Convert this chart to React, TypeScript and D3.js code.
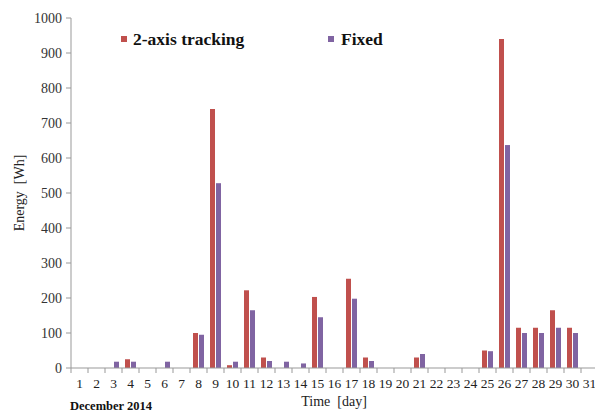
import * as d3 from "d3";

const days = d3.range(1, 32).map(String);
const tracking = [0, 0, 0, 25, 0, 0, 0, 100, 740, 8, 222, 30, 0, 0, 203, 0, 255, 30, 0, 0, 30, 0, 0, 0, 50, 940, 115, 115, 165, 115, 0];
const fixed = [0, 0, 18, 18, 0, 18, 0, 95, 528, 18, 165, 20, 18, 13, 145, 0, 198, 20, 0, 0, 40, 0, 0, 0, 48, 637, 100, 100, 115, 100, 0];
const yTicks = [0, 100, 200, 300, 400, 500, 600, 700, 800, 900, 1000];

const RED = "#c0504d";
const PURPLE = "#8064a2";
const FONT = "'Liberation Serif', 'Times New Roman', serif";

export default function App() {
  const width = 595;
  const height = 414;
  const left = 71;
  const right = 598;
  const top = 18;
  const bottom = 368;

  const x = d3.scaleBand().domain(days).range([left, right]).padding(0);
  const y = d3.scaleLinear().domain([0, 1000]).range([bottom, top]);
  const barW = 5;
  const gap = 1;

  return (
    <svg width={width} height={height} style={{ position: "absolute", left: 0, top: 0, background: "#fff" }}>
      {/* bars */}
      {days.map((d, i) => {
        const cx = (x(d) as number) + x.bandwidth() / 2;
        return (
          <g key={d}>
            {tracking[i] > 0 && (
              <rect x={cx - barW - gap / 2} y={y(tracking[i])} width={barW} height={bottom - y(tracking[i])} fill={RED} />
            )}
            {fixed[i] > 0 && (
              <rect x={cx + gap / 2} y={y(fixed[i])} width={barW} height={bottom - y(fixed[i])} fill={PURPLE} />
            )}
          </g>
        );
      })}

      {/* y axis */}
      <line x1={left} x2={left} y1={top} y2={bottom} stroke="#999" />
      {yTicks.map((t) => (
        <g key={t}>
          <line x1={left - 5} x2={left} y1={y(t)} y2={y(t)} stroke="#999" />
          <text x={left - 9} y={y(t) + 5} textAnchor="end" fontFamily={FONT} fontSize={14} fill="#333">
            {t}
          </text>
        </g>
      ))}

      {/* x axis */}
      <line x1={left} x2={right} y1={bottom} y2={bottom} stroke="#999" />
      {days.map((d) => (
        <g key={d}>
          <line x1={x(d) as number} x2={x(d) as number} y1={bottom} y2={bottom + 5} stroke="#999" />
          <text
            x={(x(d) as number) + x.bandwidth() / 2}
            y={bottom + 20}
            textAnchor="middle"
            fontFamily={FONT}
            fontSize={13.5}
            fill="#222"
          >
            {d}
          </text>
        </g>
      ))}

      {/* titles */}
      <text x={334} y={406} textAnchor="middle" fontFamily={FONT} fontSize={14} fill="#222">
        Time&#160;&#160;[day]
      </text>
      <text x={70} y={410} fontFamily={FONT} fontSize={12.5} fontWeight="bold" fill="#111">
        December 2014
      </text>
      <text
        transform={`translate(24, ${(top + bottom) / 2}) rotate(-90)`}
        textAnchor="middle"
        fontFamily={FONT}
        fontSize={14}
        fill="#222"
      >
        Energy&#160;&#160;[Wh]
      </text>

      {/* legend */}
      <rect x={121} y={36} width={6} height={6} fill={RED} />
      <text x={133} y={45} fontFamily={FONT} fontSize={17.5} fontWeight="bold" fill="#111">
        2-axis tracking
      </text>
      <rect x={328} y={36} width={6} height={6} fill={PURPLE} />
      <text x={341} y={45} fontFamily={FONT} fontSize={17.5} fontWeight="bold" fill="#111">
        Fixed
      </text>
    </svg>
  );
}
